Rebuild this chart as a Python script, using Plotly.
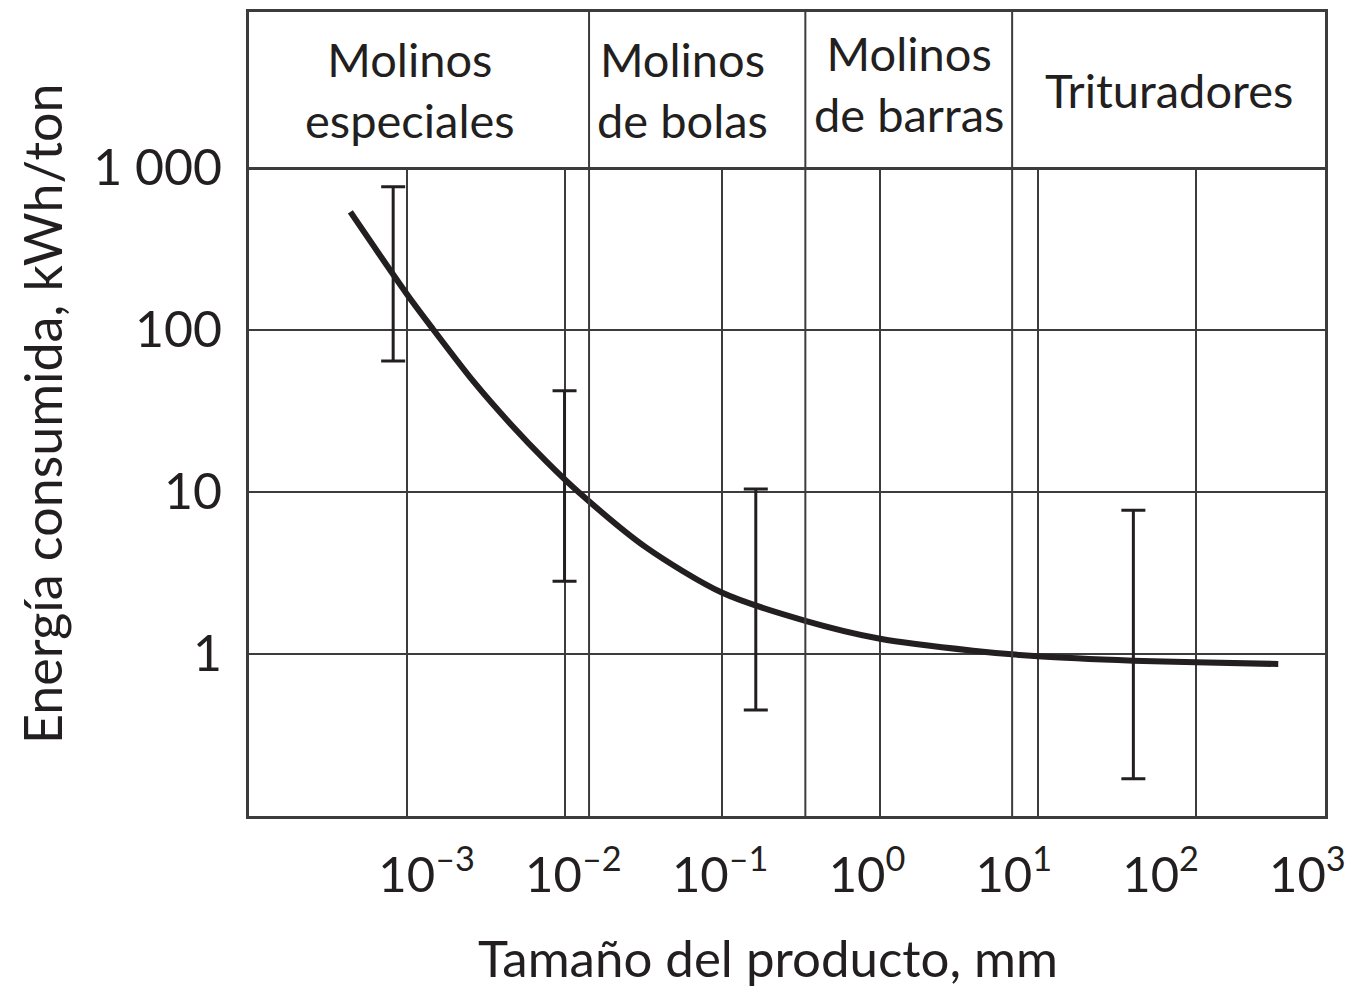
import numpy as np
import plotly.graph_objects as go

# Specific energy consumed vs. product size (log-log curve)
size_mm = [4.39e-4, 1.0e-3, 1.43e-3, 2.67e-3, 4.56e-3, 7.66e-3, 1.23e-2,
           3.25e-2, 0.1, 0.336, 1.0, 3.89, 10.0, 40.3, 100.0, 334.0]
energy_kwh_t = [532, 166, 104, 47.4, 26.1, 15.4, 9.93,
                4.57, 2.38, 1.60, 1.24, 1.047, 0.966, 0.908, 0.887, 0.866]

# Spread of energy for each class of equipment
spread_size_mm = [8.2e-4, 1.0e-2, 0.163, 40.3]
spread_low = [64, 2.8, 0.45, 0.17]
spread_high = [760, 42, 10.4, 7.7]

# Limits between equipment zones (mm) and zone names
zone_limits_mm = [0.0143, 0.336, 6.87]
zone_names = ["Molinos<br>especiales", "Molinos<br>de bolas",
              "Molinos<br>de barras", "Trituradores"]

# Axis ticks
x_tick_vals = [1e-3, 1e-2, 1e-1, 1, 10, 100]
x_label_vals = [1e-3, 1e-2, 1e-1, 1, 10, 100, 1000]
x_label_text = ["10<sup>–3</sup>", "10<sup>–2</sup>", "10<sup>–1</sup>", "10<sup>0</sup>",
                "10<sup>1</sup>", "10<sup>2</sup>", "10<sup>3</sup>"]
y_tick_vals = [1, 10, 100, 1000]
y_tick_text = ["1", "10", "100", "1 000"]

# Layout constants
INK = "#231f20"
GRID = "#3c3c3c"
FONT = "Lato"
X_RANGE = [-4.0, 2.82]          # log10 mm
LABEL_RANGE = [-4.21, 3.12]     # log10 scale of the printed decade labels
Y_RANGE = [-1, 3]               # log10 kWh/ton
SPLIT = 0.8066                  # paper fraction where header band starts
NAME_Y = [0.5, 0.5, 0.54, 0.5]  # vertical placement of zone names in the band
NAME_SHIFT = [-9, -15, 0, 0]    # px nudges of zone names

low = np.array(spread_low, dtype=float)
high = np.array(spread_high, dtype=float)
mid = np.sqrt(low * high)

fig = go.Figure()

# main curve
fig.add_trace(go.Scatter(
    x=size_mm, y=energy_kwh_t, mode="lines",
    line=dict(color=INK, width=6, shape="spline", smoothing=0.8),
    xaxis="x", yaxis="y", hoverinfo="skip", showlegend=False))

# energy spread bars
fig.add_trace(go.Scatter(
    x=spread_size_mm, y=mid, mode="markers",
    marker=dict(size=1, color=INK),
    error_y=dict(type="data", symmetric=False, array=high - mid, arrayminus=mid - low,
                 color=INK, thickness=3, width=12),
    xaxis="x", yaxis="y", hoverinfo="skip", showlegend=False))

# zone dividers, lower panel and header band
ylo, yhi = 10 ** Y_RANGE[0], 10 ** Y_RANGE[1]
xs, ys, ys2 = [], [], []
for z in zone_limits_mm:
    xs += [z, z, None]
    ys += [ylo, yhi, None]
    ys2 += [0, 1, None]
fig.add_trace(go.Scatter(x=xs, y=ys, mode="lines", line=dict(color=GRID, width=2),
                         xaxis="x", yaxis="y", hoverinfo="skip", showlegend=False))
fig.add_trace(go.Scatter(x=xs, y=ys2, mode="lines", line=dict(color=GRID, width=2),
                         xaxis="x2", yaxis="y2", hoverinfo="skip", showlegend=False))

# binds the decade-label axis so it is drawn (no visible mark)
fig.add_trace(go.Scatter(x=[x_label_vals[0]], y=[y_tick_vals[0]], mode="markers",
                         marker=dict(opacity=0), xaxis="x3", yaxis="y",
                         hoverinfo="skip", showlegend=False))

# zone names centred in each band (annotation x in log10 units)
bounds = [X_RANGE[0]] + [float(np.log10(z)) for z in zone_limits_mm] + [X_RANGE[1]]
for i, name in enumerate(zone_names):
    fig.add_annotation(x=(bounds[i] + bounds[i + 1]) / 2, y=NAME_Y[i], xref="x2", yref="y2",
                       text=name, showarrow=False, xanchor="center", yanchor="middle",
                       xshift=NAME_SHIFT[i],
                       font=dict(family=FONT, size=47, color=INK))

axis_line = dict(showline=True, linecolor=GRID, linewidth=3, zeroline=False,
                 automargin=False)

fig.update_layout(
    width=1349, height=987,
    margin=dict(l=249, r=24, t=12, b=171, autoexpand=False),
    paper_bgcolor="white", plot_bgcolor="white",
    font=dict(family=FONT, color=INK),
    xaxis=dict(type="log", range=X_RANGE, anchor="y", tickvals=x_tick_vals,
               showticklabels=False, ticks="", showgrid=True, gridcolor=GRID, gridwidth=2,
               mirror=False, **axis_line),
    yaxis=dict(type="log", range=Y_RANGE, domain=[0, SPLIT], anchor="x",
               tickvals=y_tick_vals, ticktext=y_tick_text, ticks="",
               ticklabelstandoff=14, tickfont=dict(family=FONT, size=50, color=INK),
               showgrid=True, gridcolor=GRID, gridwidth=2, mirror=True, **axis_line),
    xaxis2=dict(type="log", range=X_RANGE, anchor="y2", matches="x", tickvals=[],
                showticklabels=False, ticks="", showgrid=False, mirror=True, **axis_line),
    yaxis2=dict(range=[0, 1], domain=[SPLIT, 1], anchor="x2", tickvals=[],
                showticklabels=False, ticks="", showgrid=False, mirror=True, **axis_line),
    xaxis3=dict(type="log", range=LABEL_RANGE, overlaying="x", anchor="y", side="bottom",
                tickvals=x_label_vals, ticktext=x_label_text, ticks="",
                ticklabelstandoff=26, ticklabeloverflow="allow",
                showgrid=False, showline=False, zeroline=False,
                automargin=False, tickfont=dict(family=FONT, size=49, color=INK)),
)

# axis titles
fig.add_annotation(text="Energía consumida, kWh/ton", xref="paper", yref="paper",
                   x=-0.1924, y=0.5, textangle=-90, showarrow=False,
                   xanchor="center", yanchor="middle",
                   font=dict(family=FONT, size=52, color=INK))
fig.add_annotation(text="Tamaño del producto, mm", xref="paper", yref="paper",
                   x=0.4823, y=-0.1766, showarrow=False,
                   xanchor="center", yanchor="middle",
                   font=dict(family=FONT, size=51, color=INK))

fig.write_html("out.html")
